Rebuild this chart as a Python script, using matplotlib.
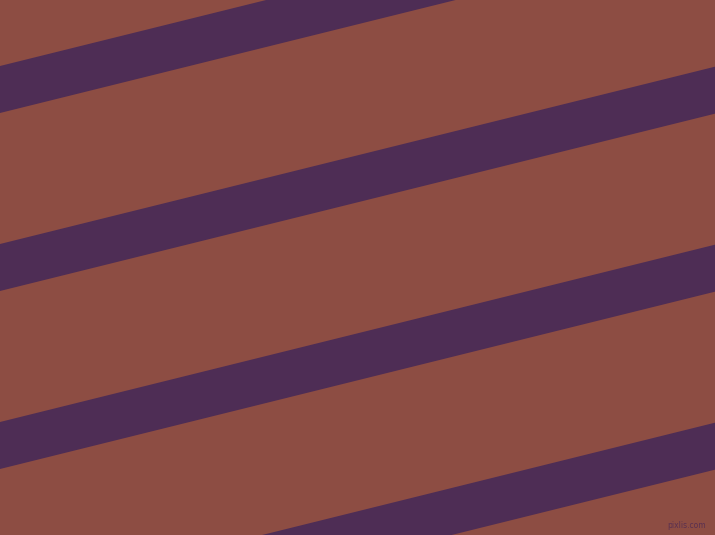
import matplotlib
matplotlib.use("Agg")
import matplotlib.pyplot as plt
import numpy as np

# Stripe data (y of the top edge at x=0, in pixel units), slope and thickness
stripe_top_at_left = [66, 244, 422, 600]
stripe_thickness = 47
stripe_slope = -0.248  # y decreases as x increases (image coords)

bg_color = "#8D4D43"
stripe_color = "#4E2D55"
width, height = 715, 535

fig = plt.figure(figsize=(7.15, 5.35), dpi=100)
ax = fig.add_axes([0, 0, 1, 1])
ax.set_xlim(0, width)
ax.set_ylim(height, 0)
ax.axis("off")
fig.patch.set_facecolor(bg_color)
ax.set_facecolor(bg_color)

xs = np.array([0, width])
for y0 in stripe_top_at_left:
    top = y0 + stripe_slope * xs
    bot = top + stripe_thickness
    ax.fill_between(xs, top, bot, color=stripe_color, linewidth=0)

ax.text(706, 525, "pixlis.com", fontsize=5.5, color="#5a3050", ha="right",
        va="center", family="DejaVu Sans")

fig.savefig("out.png", dpi=100, facecolor=bg_color)
